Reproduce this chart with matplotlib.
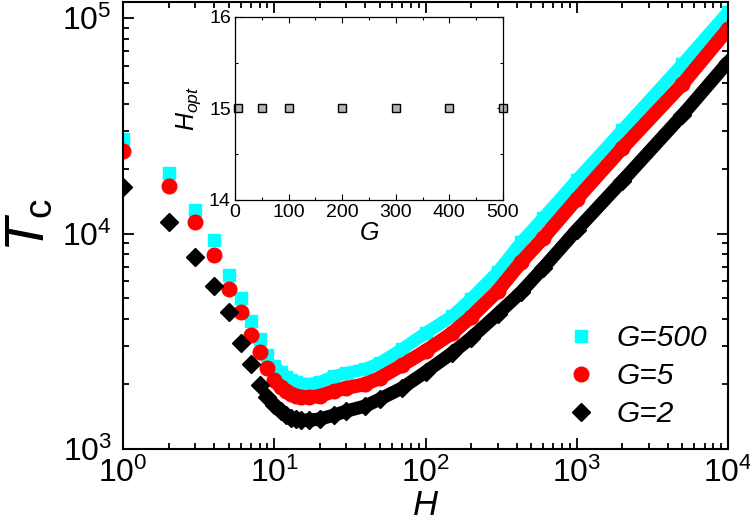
import matplotlib
matplotlib.use('Agg')
import matplotlib.pyplot as plt
from matplotlib.ticker import LogLocator, MultipleLocator, NullFormatter

plt.rcParams['font.family'] = 'Liberation Sans'
plt.rcParams['mathtext.fontset'] = 'custom'
plt.rcParams['mathtext.rm'] = 'Liberation Sans'
plt.rcParams['mathtext.it'] = 'Liberation Sans:italic'

# T_c versus H for three values of G
H = [1, 2, 3, 4, 5, 6, 7, 8, 9, 10, 11, 12, 13, 14, 15, 17, 20, 25, 30, 40,
     50, 70, 100, 150, 200, 300, 430, 600, 1000, 2000, 5000, 10000]
T_g500 = [27400, 19000, 12850, 9330, 6420, 5020, 3930, 3240, 2730, 2430, 2280,
          2160, 2090, 2045, 2005, 2000, 2045, 2180, 2250, 2350, 2510, 2910,
          3450, 4140, 4970, 6630, 9130, 11800, 17700, 30200, 61200, 106600]
T_g5 = [24100, 16700, 11300, 7950, 5530, 4340, 3380, 2830, 2380, 2090, 1940,
        1860, 1800, 1760, 1745, 1740, 1760, 1860, 1920, 2000, 2140, 2450,
        2850, 3450, 4100, 5410, 7380, 9530, 14460, 24900, 49400, 88900]
T_g2 = [16500, 11300, 7800, 5700, 4320, 3110, 2480, 1980, 1750, 1600, 1500,
        1440, 1395, 1378, 1363, 1360, 1378, 1438, 1500, 1583, 1706, 1920,
        2277, 2790, 3274, 4231, 5353, 6918, 10380, 17520, 35470, 62500]

# inset: optimal H versus G
G_in = [5, 50, 100, 200, 300, 400, 500]
Hopt_in = [15, 15, 15, 15, 15, 15, 15]

fig = plt.figure(figsize=(7.5, 5.31), dpi=100)
ax = fig.add_axes([0.164, 0.1544, 0.8067, 0.8427])

dense = H.index(10)
series = [(T_g500, 'cyan', 's', 9.0, 9.0, 'G=500'),
          (T_g5, 'red', 'o', 10.5, 10.0, 'G=5'),
          (T_g2, 'black', 'D', 9.5, 9.5, 'G=2')]
for T, c, m, ms, lw, lab in series:
    ax.plot(H[dense:], T[dense:], color=c, lw=lw, solid_capstyle='butt')
    ax.plot(H, T, ls='none', marker=m, ms=ms, color=c, mec=c, label=lab)

ax.set_xscale('log')
ax.set_yscale('log')
ax.set_xlim(1, 1e4)
ax.set_ylim(1e3, 1.193e5)
ax.xaxis.set_major_locator(LogLocator(base=10, numticks=10))
ax.yaxis.set_major_locator(LogLocator(base=10, numticks=10))
ax.xaxis.set_minor_locator(LogLocator(base=10, subs=range(2, 10), numticks=20))
ax.yaxis.set_minor_locator(LogLocator(base=10, subs=range(2, 10), numticks=20))
ax.xaxis.set_minor_formatter(NullFormatter())
ax.yaxis.set_minor_formatter(NullFormatter())
ax.tick_params(which='both', direction='in', top=True, right=True, width=1.3)
ax.tick_params(which='major', length=8, labelsize=23)
ax.tick_params(which='minor', length=4.5)
ax.tick_params(axis='x', which='major', pad=6)
ax.tick_params(axis='y', which='major', pad=8)
for s in ax.spines.values():
    s.set_linewidth(1.5)

ax.set_xlabel('$H$', fontsize=25, labelpad=0)
ax.set_ylabel(r'$T_\mathregular{c}$', fontsize=40, labelpad=4)

ax.legend(loc='lower right', bbox_to_anchor=(0.985, 0.02), frameon=False,
          prop={'style': 'italic', 'size': 21.5}, handlelength=1.0,
          handletextpad=0.7, labelspacing=0.33, borderaxespad=0)

# inset
ins = fig.add_axes([0.3133, 0.6234, 0.3573, 0.3446])
ins.plot(G_in, Hopt_in, ls='none', marker='s', ms=6, color='#b4b4b4',
         mec='black', mew=1.0, clip_on=False)
ins.set_xlim(0, 500)
ins.set_ylim(14, 16)
ins.xaxis.set_major_locator(MultipleLocator(100))
ins.xaxis.set_minor_locator(MultipleLocator(50))
ins.yaxis.set_major_locator(MultipleLocator(1))
ins.yaxis.set_minor_locator(MultipleLocator(0.5))
ins.tick_params(which='both', direction='in', top=True, right=True,
                labelsize=14, width=0.8)
ins.tick_params(which='major', length=4, pad=3)
ins.tick_params(which='minor', length=2.5)
for s in ins.spines.values():
    s.set_linewidth(0.9)
ins.set_xlabel('$G$', fontsize=18, labelpad=0)
ins.set_ylabel('$H_{opt}$', fontsize=18, labelpad=4)

fig.savefig('out.png', dpi=100)
